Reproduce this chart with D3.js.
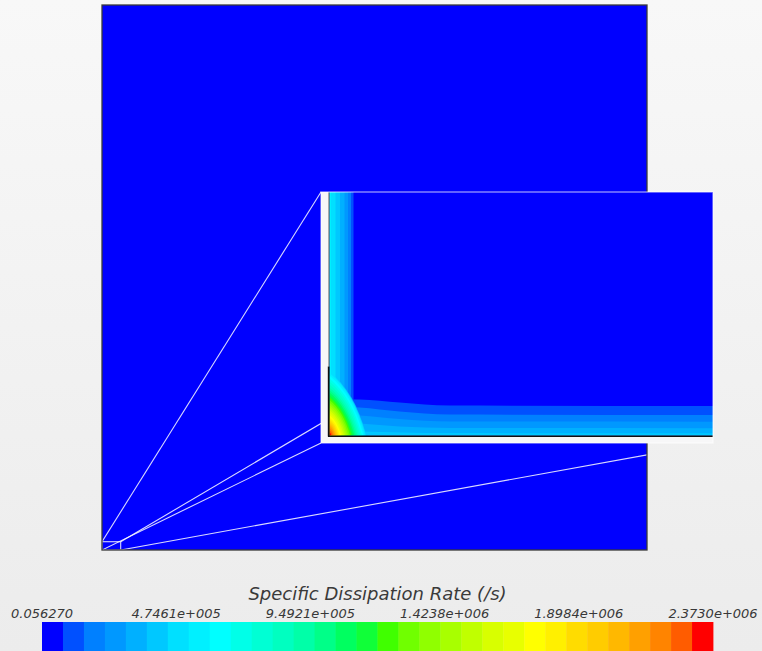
<!DOCTYPE html>
<html>
<head>
<meta charset="utf-8">
<script src="https://cdn.jsdelivr.net/npm/d3@7"></script>
<style>
  html, body { margin: 0; padding: 0; background: #f1f1f1; }
  svg { display: block; }
</style>
</head>
<body>
<svg id="chart" width="762" height="651"></svg>
<script>
// ---- colour legend -------------------------------------------------------
const legendTitle = "Specific Dissipation Rate (/s)";
const valueMin = 0.05627;
const valueMax = 2.3730e6;
const tickValues = [0.05627, 4.7461e5, 9.4921e5, 1.4238e6, 1.8984e6, 2.3730e6];
const tickLabels = ["0.056270", "4.7461e+005", "9.4921e+005", "1.4238e+006", "1.8984e+006", "2.3730e+006"];
// 32 discrete contour colours, lowest first
const palette = [
  "#0000ff", "#0050ff", "#0080ff", "#0098ff", "#00b0ff", "#00c8ff", "#00e0ff", "#00f0ff",
  "#00ffff", "#00ffe8", "#00ffd4", "#00ffc0", "#00ffa8", "#00ff88", "#00ff60", "#10ff38",
  "#40ff00", "#70ff00", "#90ff00", "#a8ff00", "#c0ff00", "#d8ff00", "#e8ff00", "#ffff00",
  "#fff000", "#ffdc00", "#ffcc00", "#ffb800", "#ffa000", "#ff8400", "#ff5c00", "#ff0000"
];

// ---- domain (m) and the zoomed corner region (m) --------------------------
const domainX = [0, 1];
const domainY = [0, 1];
const zoomRegionX = [0, 0.0343];
const zoomRegionY = [0, 0.0152];

// ---- near-wall contour bands in the zoomed view (mm from wall / floor) ---
// width of each level's band along the vertical wall (levels 1..7)
const wallBandWidth = [2.4, 2.15, 1.85, 1.5, 1.05, 0.6, 0.15];
// thickness of each level's band along the floor, at these stations (levels 1..6)
const floorStations = [0, 3, 7, 12, 38.35];
const floorBandHeight = [
  [3.65, 3.6, 3.3, 3.0, 2.95],
  [2.9, 2.8, 2.4, 2.1, 2.05],
  [2.1, 2.0, 1.65, 1.4, 1.37],
  [1.3, 1.2, 0.9, 0.75, 0.72],
  [0.5, 0.4, 0.3, 0.24, 0.22],
  [0.1, 0.05, 0, 0, 0]
];
// corner contours (levels 1..31): reach along the floor and up the wall, and bulge
const cornerFloorReach = [4.0, 3.9, 3.8, 3.75, 3.7, 3.65, 3.55, 3.4, 3.25, 3.1, 2.95, 2.8, 2.65, 2.5, 2.35, 2.2,
  2.05, 1.9, 1.75, 1.6, 1.45, 1.3, 1.17, 1.04, 0.92, 0.8, 0.68, 0.56, 0.44, 0.32, 0.18];
const cornerWallReach = [7.0, 6.85, 6.7, 6.6, 6.5, 6.4, 6.25, 6.0, 5.7, 5.4, 5.1, 4.8, 4.55, 4.3, 4.05, 3.8,
  3.55, 3.3, 3.05, 2.8, 2.55, 2.3, 2.05, 1.8, 1.6, 1.4, 1.2, 1.0, 0.8, 0.58, 0.32];
const cornerBulge = [0.6, 0.62, 0.64, 0.65, 0.66, 0.67, 0.68, 0.68, 0.68, 0.68, 0.68, 0.68, 0.68, 0.68, 0.68, 0.68,
  0.68, 0.68, 0.68, 0.68, 0.68, 0.68, 0.68, 0.68, 0.68, 0.68, 0.68, 0.68, 0.68, 0.68, 0.68];
const insetExtentX = [0, 38.35];
const insetExtentY = [0, 24.35];
const wallHeatedFrom = 6.9; // mm, lower wall segment drawn darker

// ---------------------------------------------------------------------------
const svg = d3.select("#chart");
const W = 762, H = 651;
const defs = svg.append("defs");

const bg = defs.append("linearGradient").attr("id", "bg")
  .attr("x1", 0).attr("y1", 0).attr("x2", 0).attr("y2", 1);
bg.append("stop").attr("offset", "0%").attr("stop-color", "#f8f8f8");
bg.append("stop").attr("offset", "100%").attr("stop-color", "#ececec");
svg.append("rect").attr("width", W).attr("height", H).attr("fill", "url(#bg)");

// main domain
const mx = d3.scaleLinear().domain(domainX).range([102, 647]);
const my = d3.scaleLinear().domain(domainY).range([550, 5]);

defs.append("clipPath").attr("id", "domClip").append("rect")
  .attr("x", mx(domainX[0])).attr("y", my(domainY[1]))
  .attr("width", mx(domainX[1]) - mx(domainX[0]))
  .attr("height", my(domainY[0]) - my(domainY[1]));

svg.append("rect")
  .attr("x", mx(domainX[0])).attr("y", my(domainY[1]))
  .attr("width", mx(domainX[1]) - mx(domainX[0]))
  .attr("height", my(domainY[0]) - my(domainY[1]))
  .attr("fill", palette[0]);

// inset placement
const inset = { left: 321, top: 192, right: 713, bottom: 443 };
const ix = d3.scaleLinear().domain(insetExtentX).range([329.5, inset.right]);
const iy = d3.scaleLinear().domain(insetExtentY).range([435.5, inset.top]);

// zoom box and connectors
const box = {
  x0: mx(zoomRegionX[0]), x1: mx(zoomRegionX[1]),
  y0: my(zoomRegionY[0]), y1: my(zoomRegionY[1])
};
const connectors = [
  [[box.x0, box.y1], [inset.left, inset.top]],
  [[box.x1, box.y1], [inset.right, inset.top]],
  [[box.x0, box.y0], [inset.left, inset.bottom]],
  [[box.x1, box.y0], [inset.right, inset.bottom]]
];
const gLinks = svg.append("g").attr("clip-path", "url(#domClip)");
gLinks.selectAll("line").data(connectors).join("line")
  .attr("x1", d => d[0][0]).attr("y1", d => d[0][1])
  .attr("x2", d => d[1][0]).attr("y2", d => d[1][1])
  .attr("stroke", "#ffffff").attr("stroke-opacity", 0.85).attr("stroke-width", 1.1);
gLinks.append("rect")
  .attr("x", box.x0).attr("y", box.y1)
  .attr("width", box.x1 - box.x0).attr("height", box.y0 - box.y1)
  .attr("fill", "none").attr("stroke", "#ffffff").attr("stroke-opacity", 0.85).attr("stroke-width", 1.1);

svg.append("rect")
  .attr("x", mx(domainX[0])).attr("y", my(domainY[1]))
  .attr("width", mx(domainX[1]) - mx(domainX[0]))
  .attr("height", my(domainY[0]) - my(domainY[1]))
  .attr("fill", "none").attr("stroke", "#3a3a3a").attr("stroke-width", 1.3);

// ---- inset ---------------------------------------------------------------
const gInset = svg.append("g");
gInset.append("rect")
  .attr("x", inset.left).attr("y", inset.top)
  .attr("width", inset.right - inset.left).attr("height", inset.bottom - inset.top)
  .attr("fill", "#f7f7f8");

defs.append("clipPath").attr("id", "fieldClip").append("rect")
  .attr("x", ix(insetExtentX[0])).attr("y", iy(insetExtentY[1]))
  .attr("width", ix(insetExtentX[1]) - ix(insetExtentX[0]))
  .attr("height", iy(insetExtentY[0]) - iy(insetExtentY[1]));

const gField = gInset.append("g").attr("clip-path", "url(#fieldClip)");
gField.append("rect")
  .attr("x", ix(insetExtentX[0])).attr("y", iy(insetExtentY[1]))
  .attr("width", ix(insetExtentX[1]) - ix(insetExtentX[0]))
  .attr("height", iy(insetExtentY[0]) - iy(insetExtentY[1]))
  .attr("fill", palette[0]);

const floorArea = d3.area()
  .x(d => ix(d[0]))
  .y0(iy(0))
  .y1(d => iy(d[1]))
  .curve(d3.curveMonotoneX);

function cornerPath(a, b, c) {
  const p = d3.path();
  p.moveTo(ix(0), iy(0));
  p.lineTo(ix(a), iy(0));
  p.quadraticCurveTo(ix(c * a), iy(c * b), ix(0), iy(b));
  p.closePath();
  return p.toString();
}

// paint levels from low to high; each level's region lies inside the previous one
for (let k = 1; k < palette.length; k++) {
  const col = palette[k];
  const g = gField.append("g").attr("fill", col);
  if (k <= wallBandWidth.length) {
    const w = wallBandWidth[k - 1];
    g.append("rect")
      .attr("x", ix(0)).attr("y", iy(insetExtentY[1]))
      .attr("width", ix(w) - ix(0))
      .attr("height", iy(0) - iy(insetExtentY[1]));
  }
  if (k <= floorBandHeight.length) {
    const pts = floorStations.map((s, i) => [s, floorBandHeight[k - 1][i]]);
    g.append("path").attr("d", floorArea(pts));
  }
  g.append("path").attr("d", cornerPath(cornerFloorReach[k - 1], cornerWallReach[k - 1], cornerBulge[k - 1]));
}

// walls
gInset.append("line")
  .attr("x1", ix(0) - 0.5).attr("x2", ix(0) - 0.5)
  .attr("y1", iy(insetExtentY[1])).attr("y2", iy(wallHeatedFrom))
  .attr("stroke", "#5a5a5a").attr("stroke-width", 1);
gInset.append("line")
  .attr("x1", ix(0) - 0.8).attr("x2", ix(0) - 0.8)
  .attr("y1", iy(wallHeatedFrom)).attr("y2", iy(0) + 1)
  .attr("stroke", "#111").attr("stroke-width", 1.8);
gInset.append("line")
  .attr("x1", ix(0) - 1.5).attr("x2", ix(insetExtentX[1]))
  .attr("y1", iy(0) + 0.8).attr("y2", iy(0) + 0.8)
  .attr("stroke", "#111").attr("stroke-width", 1.6);

gInset.append("rect")
  .attr("x", inset.left).attr("y", inset.top)
  .attr("width", inset.right - inset.left).attr("height", inset.bottom - inset.top)
  .attr("fill", "none").attr("stroke", "#ffffff").attr("stroke-opacity", 0.55).attr("stroke-width", 1.4);

// ---- colour bar ------------------------------------------------------------
const cx = d3.scaleLinear().domain([valueMin, valueMax]).range([42, 713]);
const step = (valueMax - valueMin) / palette.length;
const bins = palette.map((c, i) => ({ c, v0: valueMin + i * step, v1: valueMin + (i + 1) * step }));

svg.append("g").selectAll("rect").data(bins).join("rect")
  .attr("x", d => cx(d.v0))
  .attr("y", 622)
  .attr("width", d => cx(d.v1) - cx(d.v0) + 0.4)
  .attr("height", 40)
  .attr("fill", d => d.c);

svg.append("g").selectAll("text").data(tickValues).join("text")
  .attr("x", d => cx(d))
  .attr("y", 618)
  .attr("text-anchor", "middle")
  .attr("font-family", "DejaVu Sans, sans-serif")
  .attr("font-style", "italic")
  .attr("font-size", 13)
  .attr("fill", "#383838")
  .text((d, i) => tickLabels[i]);

svg.append("text")
  .attr("x", (cx(valueMin) + cx(valueMax)) / 2)
  .attr("y", 600)
  .attr("text-anchor", "middle")
  .attr("font-family", "DejaVu Sans, sans-serif")
  .attr("font-style", "italic")
  .attr("font-size", 18)
  .attr("fill", "#3a3a3a")
  .text(legendTitle);
</script>
</body>
</html>
